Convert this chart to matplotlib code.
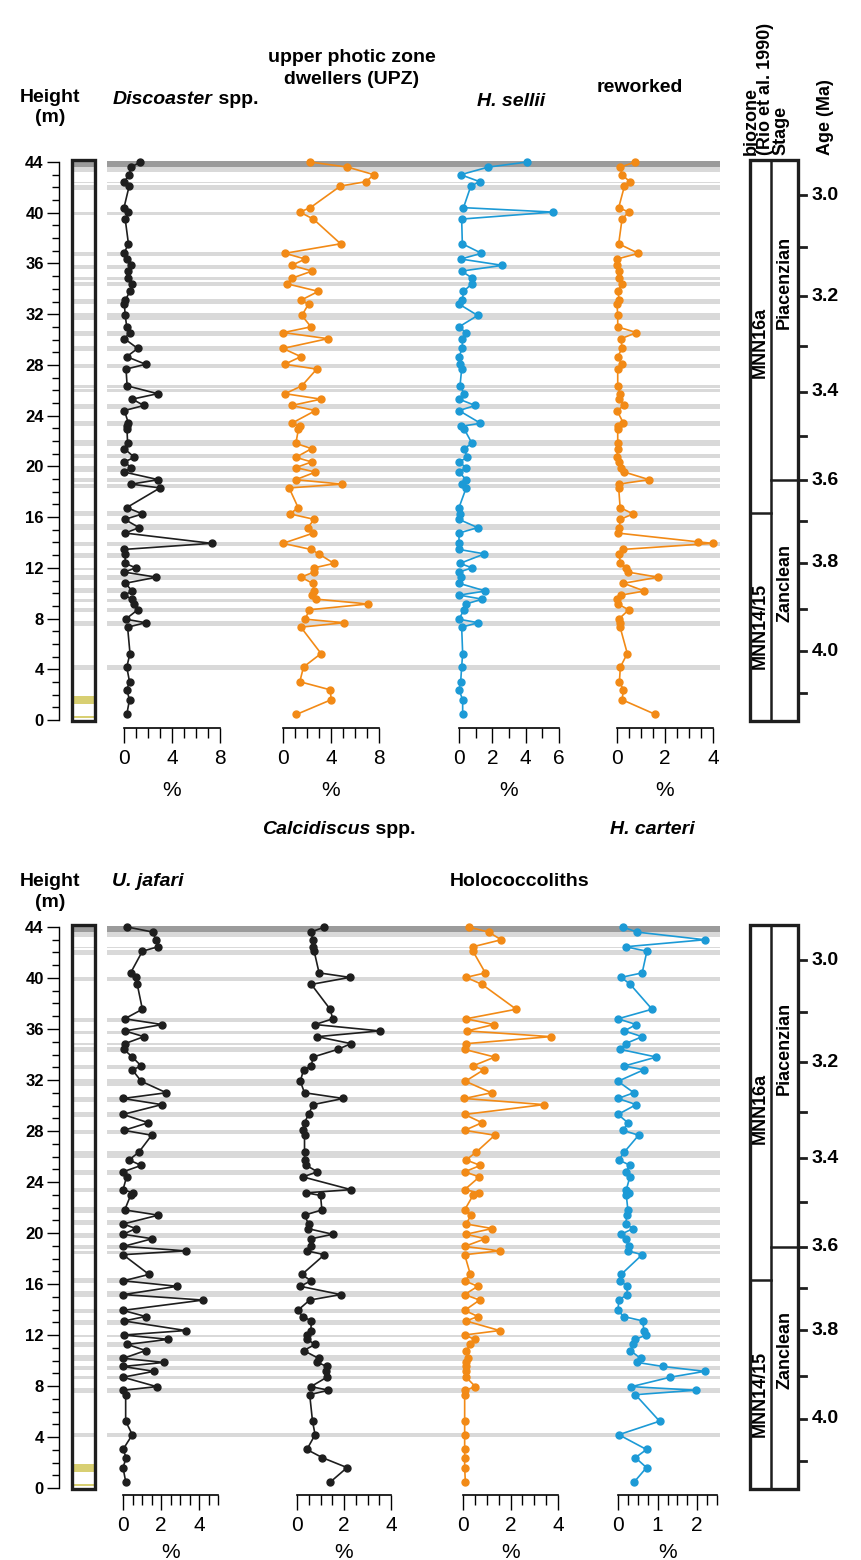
import matplotlib
matplotlib.use("Agg")
import matplotlib.pyplot as plt
from matplotlib.ticker import MultipleLocator
from matplotlib.patches import Rectangle

# ---------------- data ----------------
sample_height = [44.0, 43.6, 43.0, 42.45, 42.1, 40.4, 40.05, 39.5, 37.55, 36.8,
                 36.35, 35.85, 35.4, 34.85, 34.4, 33.8, 33.1, 32.8, 31.9, 31.0,
                 30.55, 30.07, 29.3, 28.65, 28.05, 27.67, 26.35, 25.73, 25.3, 24.8,
                 24.4, 23.4, 23.15, 22.95, 21.81, 21.4, 20.71, 20.35, 19.9, 19.55,
                 18.95, 18.6, 18.3, 16.75, 16.25, 15.82, 15.17, 14.74, 13.93, 13.45,
                 13.1, 12.35, 12.0, 11.66, 11.26, 10.78, 10.17, 9.85, 9.53, 9.15,
                 8.69, 7.95, 7.67, 7.32, 5.24, 4.18, 3.02, 2.38, 1.6, 0.44]

discoaster = [1.37, 0.6, 0.43, 0.03, 0.43, 0.0, 0.37, 0.1, 0.37, 0.0,
              0.23, 0.6, 0.3, 0.3, 0.7, 0.5, 0.1, 0.03, 0.1, 0.23,
              0.5, 0.03, 1.14, 0.23, 1.8, 0.17, 0.26, 2.8, 0.69, 1.66,
              0.03, 0.37, 0.23, 0.25, 0.3, 0.03, 0.86, 0.03, 0.6, 0.03,
              2.86, 0.6, 3.0, 0.23, 1.54, 0.06, 1.26, 0.09, 7.3, 0.0,
              0.1, 0.1, 0.97, 0.03, 2.7, 0.1, 0.7, 0.03, 0.66, 0.8,
              1.14, 0.14, 1.8, 0.3, 0.5, 0.23, 0.46, 0.23, 0.46, 0.23]

upz = [2.25, 5.37, 7.58, 6.91, 4.78, 2.28, 1.40, 2.53, 4.80, 0.17,
       1.85, 0.73, 2.42, 0.79, 0.31, 2.95, 1.49, 2.13, 1.57, 2.33,
       0.03, 3.74, 0.0, 1.49, 0.14, 2.81, 1.57, 0.17, 3.17, 0.73,
       2.70, 0.73, 1.40, 1.29, 1.07, 2.39, 1.07, 2.39, 1.07, 2.70,
       1.07, 4.92, 0.51, 1.26, 0.59, 2.61, 2.05, 2.53, 0.0, 2.33,
       2.98, 4.24, 2.61, 2.56, 1.49, 2.47, 2.61, 2.42, 2.75, 7.11,
       2.19, 1.85, 5.08, 1.49, 3.17, 1.71, 1.40, 3.93, 4.02, 1.12]

h_sellii = [4.1, 1.76, 0.1, 1.24, 0.71, 0.27, 5.63, 0.16, 0.2, 1.35,
            0.1, 2.61, 0.16, 0.78, 0.78, 0.27, 0.2, 0.0, 1.12, 0.0,
            0.41, 0.2, 0.2, 0.0, 0.06, 0.16, 0.06, 0.31, 0.0, 0.98,
            0.0, 1.29, 0.1, 0.31, 0.78, 0.3, 0.5, 0.0, 0.43, 0.0,
            0.43, 0.2, 0.43, 0.0, 0.06, 0.0, 1.12, 0.0, 0.0, 0.0,
            1.53, 0.06, 0.78, 0.0, 0.1, 0.0, 1.59, 0.0, 1.39, 0.43,
            0.3, 0.0, 1.14, 0.16, 0.22, 0.16, 0.1, 0.0, 0.22, 0.22]

reworked_height = [44.0, 43.6, 43.0, 42.45, 42.1, 40.4, 40.05, 39.5, 37.55, 36.8,
                   36.35, 35.85, 35.4, 34.85, 34.4, 33.8, 33.1, 32.8, 31.9, 31.0,
                   30.55, 30.07, 29.3, 28.65, 28.05, 27.67, 26.35, 25.73, 25.3, 24.8,
                   24.4, 23.4, 23.15, 22.95, 21.81, 21.4, 20.71, 20.35, 19.9, 19.55,
                   18.95, 18.6, 18.3, 16.75, 16.25, 15.82, 15.17, 14.74, 14.05, 13.93,
                   13.45, 13.1, 12.35, 12.0, 11.66, 11.26, 10.78, 10.17, 9.85, 9.53,
                   9.15, 8.69, 7.95, 7.67, 7.32, 5.24, 4.18, 3.02, 2.38, 1.6, 0.44]
reworked = [0.77, 0.14, 0.21, 0.53, 0.31, 0.07, 0.49, 0.21, 0.07, 0.89,
            0.0, 0.0, 0.1, 0.1, 0.21, 0.03, 0.1, 0.0, 0.03, 0.03,
            0.81, 0.17, 0.21, 0.03, 0.21, 0.03, 0.03, 0.13, 0.1, 0.29,
            0.0, 0.27, 0.03, 0.03, 0.03, 0.03, 0.0, 0.1, 0.17, 0.31,
            1.34, 0.07, 0.07, 0.13, 0.67, 0.13, 0.1, 0.03, 3.36, 3.99,
            0.24, 0.1, 0.13, 0.39, 0.46, 1.71, 0.27, 1.14, 0.17, 0.0,
            0.03, 0.49, 0.07, 0.13, 0.13, 0.43, 0.14, 0.1, 0.27, 0.21, 1.6]

u_jafari = [0.23, 1.58, 1.72, 1.84, 1.02, 0.4, 0.7, 0.75, 1.02, 0.09,
            2.07, 0.1, 1.1, 0.1, 0.05, 0.49, 0.96, 0.49, 0.96, 2.28,
            0.0, 2.04, 0.0, 1.33, 0.05, 1.51, 0.84, 0.32, 0.96, 0.0,
            0.19, 0.0, 0.53, 0.4, 0.09, 1.86, 0.02, 0.67, 0.02, 1.54,
            0.02, 3.33, 0.0, 1.37, 0.02, 2.86, 0.02, 4.21, 0.0, 1.19,
            0.05, 3.3, 0.05, 2.39, 0.23, 1.19, 0.02, 2.16, 0.0, 1.63,
            0.0, 1.77, 0.02, 0.14, 0.14, 0.49, 0.0, 0.17, 0.0, 0.15]

calcidiscus = [1.17, 0.59, 0.68, 0.70, 0.73, 0.94, 2.25, 0.61, 1.41, 1.52,
               0.77, 3.52, 0.87, 2.3, 1.73, 0.68, 0.61, 0.28, 0.14, 0.32,
               1.97, 0.68, 0.49, 0.32, 0.24, 0.32, 0.32, 0.32, 0.4, 0.87,
               0.25, 2.3, 0.38, 1.0, 1.06, 0.32, 0.49, 0.45, 1.52, 0.61,
               0.59, 0.42, 1.17, 0.21, 0.59, 0.14, 1.86, 0.54, 0.03, 0.25,
               0.61, 0.59, 0.42, 0.42, 0.77, 0.28, 0.92, 0.87, 1.27, 1.23,
               1.27, 0.59, 1.34, 0.54, 0.66, 0.77, 0.42, 1.08, 2.13, 1.4]

holococcoliths = [0.24, 1.08, 1.61, 0.42, 0.42, 0.94, 0.13, 0.8, 2.24, 0.13,
                  1.3, 0.17, 3.69, 0.13, 0.07, 1.34, 0.41, 0.87, 0.1, 1.2,
                  0.06, 3.41, 0.07, 0.8, 0.07, 1.34, 0.56, 0.13, 0.73, 0.07,
                  0.69, 0.07, 0.69, 0.42, 0.07, 0.34, 0.13, 1.23, 0.13, 0.94,
                  0.07, 1.54, 0.07, 0.31, 0.07, 0.62, 0.07, 0.7, 0.07, 0.63,
                  0.13, 1.54, 0.07, 0.49, 0.31, 0.13, 0.2, 0.13, 0.13, 0.13,
                  0.13, 0.52, 0.1, 0.07, 0.07, 0.07, 0.07, 0.07, 0.07, 0.1]

h_carteri = [0.12, 0.48, 2.19, 0.19, 0.73, 0.61, 0.08, 0.31, 0.86, 0.0,
             0.46, 0.16, 0.61, 0.19, 0.06, 0.97, 0.16, 0.65, 0.0, 0.4,
             0.0, 0.46, 0.0, 0.25, 0.13, 0.52, 0.16, 0.02, 0.31, 0.19,
             0.3, 0.21, 0.27, 0.21, 0.25, 0.23, 0.19, 0.38, 0.08, 0.19,
             0.27, 0.25, 0.61, 0.08, 0.06, 0.23, 0.23, 0.02, 0.0, 0.14,
             0.63, 0.65, 0.71, 0.44, 0.38, 0.31, 0.57, 0.48, 1.14, 2.19,
             1.32, 0.34, 1.96, 0.44, 1.05, 0.02, 0.72, 0.44, 0.72, 0.4]

# grey marker beds (height bottom, top) in m
band_bottom = [43.22, 42.32, 41.82, 39.79, 36.55, 35.59, 34.72, 34.23, 32.83, 31.53,
               30.28, 29.06, 27.76, 26.15, 25.87, 24.54, 23.2, 21.58, 20.65, 19.58,
               18.77, 18.33, 16.1, 14.95, 13.69, 12.76, 11.81, 11.02, 9.98, 9.28,
               8.53, 7.42, 3.98]
band_top = [43.6, 42.46, 42.2, 40.08, 36.9, 35.88, 34.92, 34.57, 33.18, 32.11,
            30.66, 29.5, 28.05, 26.45, 26.1, 24.92, 23.55, 22.05, 21.0, 20.01,
            19.06, 18.62, 16.45, 15.49, 14.04, 13.17, 12.01, 11.43, 10.42, 9.57,
            8.82, 7.83, 4.32]
dark_band = (43.6, 44.05)
yellow_bottom = [1.25, 0.12]
yellow_top = [1.9, 0.35]

height_ticks = list(range(0, 45, 4))
age_ticks = [3.0, 3.1, 3.2, 3.3, 3.4, 3.5, 3.6, 3.7, 3.8, 3.9, 4.0, 4.1]
age_tick_height = [41.39, 37.33, 33.41, 29.5, 25.87, 22.4, 18.91, 15.72, 12.39, 8.76, 5.42, 2.09]
age_labels = ["3.0", "3.2", "3.4", "3.6", "3.8", "4.0"]
biozones = ["MNN16a", "MNN14/15"]
biozone_label_height = [29.8, 7.4]
biozone_boundary = 16.3
stages = ["Piacenzian", "Zanclean"]
stage_label_height = [34.5, 10.8]
stage_boundary = 18.91

# ---------------- layout ----------------
W, H = 861, 1560
fig = plt.figure(figsize=(W / 100, H / 100), dpi=100)
FN = ['Liberation Sans Narrow', 'Liberation Sans', 'DejaVu Sans']
FA = ['Liberation Sans', 'DejaVu Sans']
BLACK = '#1e1e1e'
ORANGE = '#f28a16'
BLUE = '#1c9ad6'
LGREY = '#d9d9d9'
DGREY = '#9b9b9b'
YELLOW = '#d8cf72'
HTOP = 44.4


def rect(x0, y0, x1, y1):
    return [x0 / W, 1 - y1 / H, (x1 - x0) / W, (y1 - y0) / H]


def fy(ypx):
    return 1 - ypx / H


panels = [
    dict(y44=162, y0=720, yaxis=728, pct=790,
         series=[(124, 220, 8, 4, 1, discoaster, sample_height, BLACK),
                 (283, 379, 8, 4, 1, upz, sample_height, ORANGE),
                 (459, 559, 6, 2, 1, h_sellii, sample_height, BLUE),
                 (617, 713, 4, 2, 0.5, reworked, reworked_height, ORANGE)]),
    dict(y44=927, y0=1488, yaxis=1495, pct=1552,
         series=[(123, 218, 5, 2, 0.5, u_jafari, sample_height, BLACK),
                 (297, 391, 4, 2, 0.5, calcidiscus, sample_height, BLACK),
                 (463, 558, 4, 2, 0.5, holococcoliths, sample_height, ORANGE),
                 (618, 717, 2.5, 1, 0.25, h_carteri, sample_height, BLUE)]),
]

for p in panels:
    ppm = (p['y0'] - p['y44']) / 44.0
    ytop = p['y0'] - HTOP * ppm
    ybot = p['yaxis']
    hbot = -(ybot - p['y0']) / ppm
    ylim = (hbot, HTOP)

    # background marker beds
    bg = fig.add_axes(rect(107, ytop, 720, ybot), zorder=0)
    bg.set_xlim(0, 1)
    bg.set_ylim(*ylim)
    bg.axis('off')
    for b0, b1 in zip(band_bottom, band_top):
        bg.axhspan(b0, b1, color=LGREY, lw=0)
    bg.axhspan(dark_band[0], dark_band[1], color=DGREY, lw=0)

    # lithology column
    li = fig.add_axes(rect(72, ytop, 95, ybot), zorder=1)
    li.set_xlim(0, 1)
    li.set_ylim(*ylim)
    li.axis('off')
    for b0, b1 in zip(band_bottom, band_top):
        li.axhspan(b0, b1, color=LGREY, lw=0)
    li.axhspan(dark_band[0], 44.15, color=DGREY, lw=0)
    for b0, b1 in zip(yellow_bottom, yellow_top):
        li.axhspan(b0, b1, color=YELLOW, lw=0)
    li.add_patch(Rectangle((0, -0.1), 1, 44.25, fill=False, lw=2.4,
                           ec=BLACK, clip_on=False))

    # height axis
    ha = fig.add_axes(rect(59, ytop, 60, ybot), zorder=1)
    ha.set_ylim(*ylim)
    ha.patch.set_alpha(0)
    for s in ['top', 'right', 'bottom']:
        ha.spines[s].set_visible(False)
    ha.spines['left'].set_bounds(0, 44)
    ha.spines['left'].set_linewidth(1.0)
    ha.set_xticks([])
    ha.set_yticks(height_ticks)
    ha.yaxis.set_minor_locator(MultipleLocator(1))
    ha.tick_params(axis='y', which='major', length=9, width=1.0, pad=2,
                   labelsize=12)
    ha.tick_params(axis='y', which='minor', length=5, width=1.0)
    for t in ha.get_yticklabels():
        t.set_fontfamily(FA)
        t.set_fontweight('bold')

    # data columns
    for (x0, x1, xmax, major, minor, vals, hts, col) in p['series']:
        ax = fig.add_axes(rect(x0, ytop, x1, ybot), zorder=3)
        ax.patch.set_alpha(0)
        ax.set_xlim(0, xmax)
        ax.set_ylim(*ylim)
        ax.plot(vals, hts, '-o', color=col, lw=1.2, ms=5, clip_on=False)
        for s in ['top', 'right', 'left']:
            ax.spines[s].set_visible(False)
        ax.spines['bottom'].set_linewidth(1.2)
        ax.set_yticks([])
        ticks = []
        v = 0.0
        while v <= xmax + 1e-9:
            ticks.append(round(v, 3))
            v += major
        ax.set_xticks(ticks)
        ax.set_xticklabels(['%g' % t for t in ticks])
        ax.xaxis.set_minor_locator(MultipleLocator(minor))
        ax.tick_params(axis='x', which='major', length=11, width=1.0, pad=4,
                       labelsize=15)
        ax.tick_params(axis='x', which='minor', length=7, width=1.0)
        for t in ax.get_xticklabels():
            t.set_fontfamily(FN)
        fig.text(((x0 + x1) / 2) / W, fy(p['pct']), '%', ha='center',
                 va='center', fontsize=15, family=FN)

    # biozone / stage / age column
    bz = fig.add_axes(rect(750, ytop, 798, ybot), zorder=1)
    bz.set_xlim(0, 48)
    bz.set_ylim(*ylim)
    bz.axis('off')
    bz.add_patch(Rectangle((0, -0.1), 48, 44.25, fill=False, lw=2.4,
                           ec=BLACK, clip_on=False))
    bz.plot([21, 21], [-0.1, 44.15], color=BLACK, lw=1.8)
    bz.plot([0, 21], [biozone_boundary] * 2, color=BLACK, lw=1.8)
    bz.plot([21, 48], [stage_boundary] * 2, color=BLACK, lw=1.8)
    for a, hh in zip(age_ticks, age_tick_height):
        bz.plot([48, 56], [hh, hh], color=BLACK, lw=2.0, clip_on=False)
        lab = '%.1f' % a
        if lab in age_labels:
            bz.text(62, hh, lab, ha='left', va='center', fontsize=14,
                    fontweight='bold', family=FA, clip_on=False)
    for name, hh in zip(biozones, biozone_label_height):
        bz.text(10.5, hh, name, rotation=90, ha='center', va='center',
                fontsize=13, fontweight='bold', family=FA)
    for name, hh in zip(stages, stage_label_height):
        bz.text(34.5, hh, name, rotation=90, ha='center', va='center',
                fontsize=13, fontweight='bold', family=FA)

# ---------------- headers ----------------
renderer = fig.canvas.get_renderer()


def mixed(x, y, parts, size=14):
    cx = x / W
    for txt, style in parts:
        t = fig.text(cx, fy(y), txt, ha='left', va='center', fontsize=size,
                     fontweight='bold', fontstyle=style, family=FN)
        bb = t.get_window_extent(renderer)
        cx = bb.x1 / W


def head(x, y, txt, style='normal', ha='center', size=14):
    fig.text(x / W, fy(y), txt, ha=ha, va='center', fontsize=size,
             fontweight='bold', fontstyle=style, family=FN)


# top panel
head(50, 98, 'Height')
head(50, 118, '(m)')
mixed(113, 100, [('Discoaster', 'italic'), (' spp.', 'normal')])
head(352, 57, 'upper photic zone')
head(352, 79, 'dwellers (UPZ)')
head(511, 102, 'H. sellii', style='italic')
head(640, 88, 'reworked')
fig.text(751 / W, fy(155), 'biozone', rotation=90, ha='center', va='bottom',
         fontsize=13, fontweight='bold', family=FA)
fig.text(766 / W, fy(155), '(Rio et al. 1990)', rotation=90, ha='center',
         va='bottom', fontsize=13, fontweight='bold', family=FA)
fig.text(781 / W, fy(155), 'Stage', rotation=90, ha='center', va='bottom',
         fontsize=13, fontweight='bold', family=FA)
fig.text(825 / W, fy(155), 'Age (Ma)', rotation=90, ha='center', va='bottom',
         fontsize=13, fontweight='bold', family=FA)

# bottom panel
mixed(262, 830, [('Calcidiscus', 'italic'), (' spp.', 'normal')])
head(652, 830, 'H. carteri', style='italic')
head(50, 882, 'Height')
head(50, 902, '(m)')
head(112, 882, 'U. jafari', style='italic', ha='left')
head(520, 882, 'Holococcoliths')

fig.savefig('out.png', dpi=100)
